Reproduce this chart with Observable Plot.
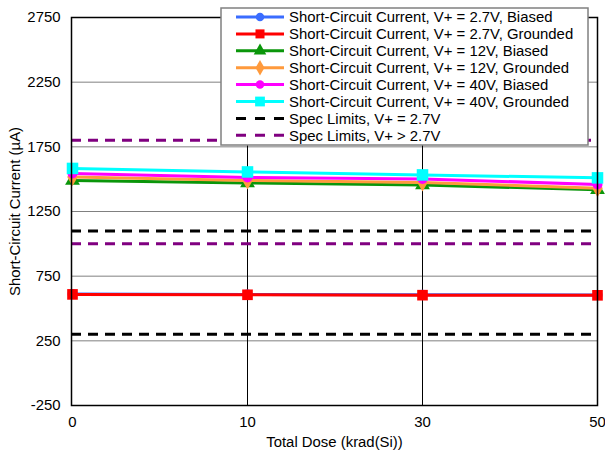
<!DOCTYPE html>
<html><head><meta charset="utf-8">
<script src="https://cdn.jsdelivr.net/npm/d3@7"></script>
<script src="https://cdn.jsdelivr.net/npm/@observablehq/plot@0.6"></script>
<style>
body{margin:0;background:#fff}
#chart svg{font-family:"Liberation Sans",Arial,sans-serif;overflow:visible}
#chart svg text{font-size:14.9px;fill:#000}
</style>
</head><body><div id="chart"></div>
<script>
const doses = ["0", "10", "30", "50"];
const yTicks = [-250, 250, 750, 1250, 1750, 2250, 2750];

const seriesNames = [
  "Short-Circuit Current, V+ = 2.7V, Biased",
  "Short-Circuit Current, V+ = 2.7V, Grounded",
  "Short-Circuit Current, V+ = 12V, Biased",
  "Short-Circuit Current, V+ = 12V, Grounded",
  "Short-Circuit Current, V+ = 40V, Biased",
  "Short-Circuit Current, V+ = 40V, Grounded"
];
const v27Biased   = [612, 609, 606, 605];
const v27Grounded = [609, 606, 603, 602];
const v12Biased   = [1490, 1471, 1455, 1418];
const v12Grounded = [1517, 1490, 1475, 1430];
const v40Biased   = [1544, 1513, 1502, 1459];
const v40Grounded = [1583, 1556, 1533, 1510];

const specNames = ["Spec Limits, V+ = 2.7V", "Spec Limits, V+ > 2.7V"];
const spec27 = [1100, 300];
const specHigh = [1800, 1000];

const colors = ["#3a6cff", "#ff0000", "#0a960a", "#ff9a3c", "#ff00ff", "#00ffff"];
const symbols = ["circle", "square", "triangle", "diamond", "circle", "square"];
const radii = [5, 6, 5.5, 5.5, 5, 6.5];
const specColors = ["#000000", "#800080"];

const allValues = [v27Biased, v27Grounded, v12Biased, v12Grounded, v40Biased, v40Grounded];
const seriesData = allValues.map((vals, i) =>
  vals.map((v, j) => ({series: seriesNames[i], dose: doses[j], value: v})));

const marks = [
  Plot.ruleY(yTicks, {stroke: "#808080", strokeWidth: 1}),
  Plot.ruleX(["10", "30"], {stroke: "#000", strokeWidth: 1}),
  Plot.ruleY(spec27, {stroke: specColors[0], strokeWidth: 3, strokeDasharray: "10,7"}),
  Plot.ruleY(specHigh, {stroke: specColors[1], strokeWidth: 3, strokeDasharray: "10,7"})
];
seriesData.forEach((d, i) => {
  marks.push(Plot.line(d, {x: "dose", y: "value", stroke: colors[i], strokeWidth: 3}));
  marks.push(Plot.dot(d, {x: "dose", y: "value", fill: colors[i], stroke: "none", symbol: symbols[i], r: radii[i]}));
});
marks.push(Plot.frame({stroke: "#000", strokeWidth: 1.5}));
marks.push(Plot.axisY({ticks: yTicks, tickSize: 0, tickPadding: 11, tickFormat: d => String(d),
  label: "Short-Circuit Current (µA)", labelAnchor: "center", labelArrow: "none", labelOffset: 62}));
marks.push(Plot.axisX({tickSize: 0, tickPadding: 11,
  label: "Total Dose (krad(Si))", labelAnchor: "center", labelArrow: "none", labelOffset: 41}));

const chart = Plot.plot({
  width: 605, height: 455,
  marginLeft: 71, marginRight: 8, marginTop: 17, marginBottom: 50,
  style: {color: "#000", background: "#fff"},
  x: {type: "point", domain: doses, padding: 0},
  y: {domain: [-250, 2750]},
  marks
});
document.getElementById("chart").appendChild(chart);

// Legend box
const svg = d3.select(chart);
const lg = svg.append("g").attr("transform", "translate(221,8)").attr("text-anchor", "start");
const rowH = 16.9, lx0 = 15, lx1 = 63, tx = 68;
lg.append("rect").attr("x", 0).attr("y", 0).attr("width", 367).attr("height", 137)
  .attr("fill", "#fff").attr("stroke", "#808080").attr("stroke-width", 1.5);
const symMap = {circle: d3.symbolCircle, square: d3.symbolSquare, triangle: d3.symbolTriangle, diamond: d3.symbolDiamond};
seriesNames.forEach((name, i) => {
  const cy = 9 + i * rowH;
  lg.append("line").attr("x1", lx0).attr("x2", lx1).attr("y1", cy).attr("y2", cy)
    .attr("stroke", colors[i]).attr("stroke-width", 3);
  const r = radii[i] * 0.85;
  lg.append("path").attr("d", d3.symbol(symMap[symbols[i]], Math.PI * r * r)())
    .attr("transform", `translate(${(lx0 + lx1) / 2},${cy})`).attr("fill", colors[i]);
  lg.append("text").attr("x", tx).attr("y", cy).attr("dy", "0.35em").text(name);
});
specNames.forEach((name, k) => {
  const cy = 9 + (6 + k) * rowH;
  lg.append("line").attr("x1", lx0).attr("x2", lx1).attr("y1", cy).attr("y2", cy)
    .attr("stroke", specColors[k]).attr("stroke-width", 3).attr("stroke-dasharray", "10,9");
  lg.append("text").attr("x", tx).attr("y", cy).attr("dy", "0.35em").text(name);
});
</script></body></html>
